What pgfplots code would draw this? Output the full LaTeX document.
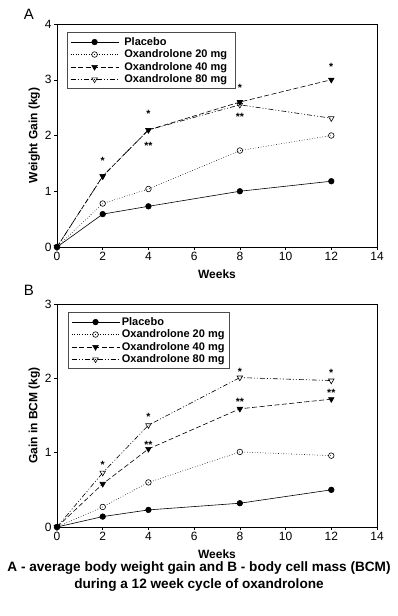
\documentclass[border=0pt]{standalone}
\usepackage{pgfplots}
\pgfplotsset{compat=1.18}
\usepackage{fontspec}
\setmainfont{Liberation Sans}
\pgfplotstableread{
x placebo o20 o40 o80
0 0 0 0 0
2 0.59 0.78 1.27 1.27
4 0.73 1.04 2.10 2.10
8 1.00 1.73 2.60 2.55
12 1.18 2.00 3.00 2.31
}\dataA
\pgfplotstableread{
x placebo o20 o40 o80
0 0 0 0 0
2 0.14 0.27 0.58 0.73
4 0.23 0.60 1.05 1.37
8 0.32 1.01 1.59 2.01
12 0.50 0.96 1.72 1.97
}\dataB
\pgfplotsset{
  myax/.style={
    scale only axis, width=320pt, height=223pt,
    xmin=0, xmax=14, xtick={0,2,...,14},
    axis line style={black, line width=0.7pt},
    tick align=outside, major tick length=3pt,
    tick style={black, line width=0.5pt},
    xtick pos=bottom, ytick pos=left,
    ticklabel style={font=\fontsize{12}{13}\selectfont},
    xticklabel style={yshift=1pt},
    yticklabel style={xshift=1pt},
    /pgf/number format/assume math mode=true,
    xlabel={\bfseries Weeks},
    xlabel style={font=\fontsize{12}{13}\selectfont, yshift=-2pt},
    ylabel style={font=\fontsize{12}{13}\selectfont\bfseries, yshift=-2pt},
    legend cell align=left,
    legend style={font=\fontsize{11}{12}\selectfont\bfseries, draw=black!70, line width=0.7pt, row sep=-1pt, inner xsep=3pt, inner ysep=2.5pt},
    legend image post style={line width=0.6pt},
    legend image code/.code={
      \draw[mark repeat=2,mark phase=2] plot coordinates {(0pt,0pt) (24pt,0pt) (48pt,0pt)};
    },
    every axis plot/.append style={line width=0.6pt},
  },
  pl/.style={black, solid, mark=*, mark size=2.8pt, mark options={solid, fill=black}},
  p20/.style={black, dotted, mark=o, mark size=2.8pt, mark options={solid}},
  p40/.style={black, dashed, dash pattern=on 5pt off 2.5pt, mark=triangle*, mark size=3.2pt, mark options={solid, fill=black, rotate=180}},
  p80/.style={black, dash pattern=on 5pt off 2pt on 1pt off 2pt on 1pt off 2pt, mark=triangle, mark size=3.2pt, mark options={solid, fill=white, rotate=180}},
  star/.style={only marks, mark=none, nodes near coords, point meta=explicit symbolic, every node near coord/.style={font=\fontsize{10.5}{10}\selectfont\bfseries, anchor=center, yshift=0pt}},
}
\begin{document}
\begin{tikzpicture}
\useasboundingbox (0pt,0pt) rectangle (398pt,-616pt);
\node[font=\fontsize{15}{16}\selectfont, anchor=center] at (29pt,-14.5pt) {A};
\node[font=\fontsize{15}{16}\selectfont, anchor=center] at (29pt,-290pt) {B};
\begin{axis}[myax, at={(57pt,-247pt)}, anchor=south west,
  ymin=0, ymax=4, ytick={0,1,2,3,4},
  ylabel={Weight Gain (kg)},
  legend style={at={(rel axis cs:0.031,0.962)}, anchor=north west, nodes={inner xsep=5.5pt}}]
\addplot[pl] table[x=x,y=placebo]{\dataA};
\addlegendentry{Placebo}
\addplot[p20] table[x=x,y=o20]{\dataA};
\addlegendentry{Oxandrolone 20 mg}
\addplot[p40] table[x=x,y=o40]{\dataA};
\addlegendentry{Oxandrolone 40 mg}
\addplot[p80] table[x=x,y=o80]{\dataA};
\addlegendentry{Oxandrolone 80 mg}
\addplot[star, forget plot] coordinates {(2,1.54)[*] (4,2.38)[*] (4,1.82)[**] (8,2.85)[*] (8,2.33)[**] (12,3.23)[*]};
\end{axis}
\begin{axis}[myax, at={(57pt,-527pt)}, anchor=south west,
  ymin=0, ymax=3, ytick={0,1,2,3},
  ylabel={Gain in BCM (kg)},
  legend style={at={(rel axis cs:0.034,0.962)}, anchor=north west}]
\addplot[pl] table[x=x,y=placebo]{\dataB};
\addlegendentry{Placebo}
\addplot[p20] table[x=x,y=o20]{\dataB};
\addlegendentry{Oxandrolone 20 mg}
\addplot[p40] table[x=x,y=o40]{\dataB};
\addlegendentry{Oxandrolone 40 mg}
\addplot[p80] table[x=x,y=o80]{\dataB};
\addlegendentry{Oxandrolone 80 mg}
\addplot[star, forget plot] coordinates {(2,0.84)[*] (4,1.48)[*] (4,1.11)[**] (8,2.09)[*] (8,1.68)[**] (12,2.08)[*] (12,1.80)[**]};
\end{axis}
\node[font=\fontsize{13.6}{17}\selectfont\bfseries, align=center, anchor=center] at (199pt,-576.5pt) {A - average body weight gain and B - body cell mass (BCM)\\during a 12 week cycle of oxandrolone};
\end{tikzpicture}
\end{document}
